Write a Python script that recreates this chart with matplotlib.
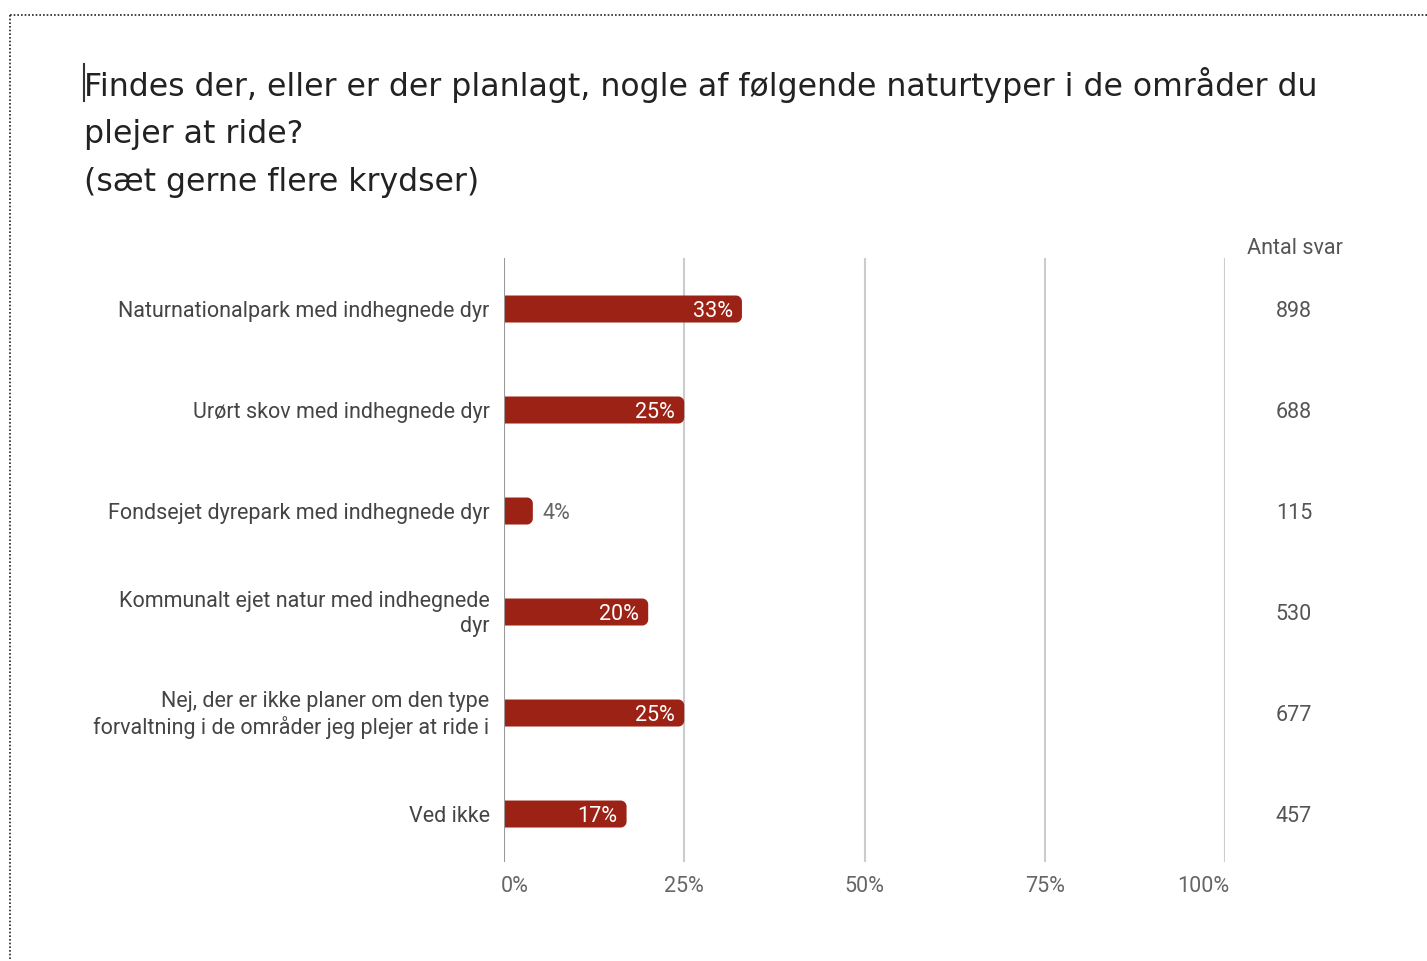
import matplotlib
matplotlib.use("Agg")
import numpy as np
import matplotlib.pyplot as plt
from matplotlib.patches import Polygon
from matplotlib.lines import Line2D

categories = [
    "Naturnationalpark med indhegnede dyr",
    "Urørt skov med indhegnede dyr",
    "Fondsejet dyrepark med indhegnede dyr",
    "Kommunalt ejet natur med indhegnede\ndyr",
    "Nej, der er ikke planer om den type\nforvaltning i de områder jeg plejer at ride i",
    "Ved ikke",
]
percent = [33, 25, 4, 20, 25, 17]
counts = [898, 688, 115, 530, 677, 457]
tick_values = [0, 25, 50, 75, 100]
tick_labels = ["0%", "25%", "50%", "75%", "100%"]
title_lines = [
    "Findes der, eller er der planlagt, nogle af følgende naturtyper i de områder du",
    "plejer at ride?",
    "(sæt gerne flere krydser)",
]
count_header = "Antal svar"

W, H = 1427, 961
fig = plt.figure(figsize=(W / 100, H / 100), dpi=100)
fig.patch.set_facecolor("white")

def fx(px):
    return px / W

def fy(py):
    return 1 - py / H

FS = 15.5
DY = 2  # pixel offset for text vertical centering

# dotted border
fig.add_artist(Line2D([fx(10), fx(1427)], [fy(15), fy(15)], color="#222222", lw=1.2, ls=(0, (1, 1.2))))
fig.add_artist(Line2D([fx(10), fx(10)], [fy(15), fy(961)], color="#222222", lw=1.2, ls=(0, (1, 1.2))))

# title
base = [96, 143, 191]
for line, b in zip(title_lines, base):
    fig.text(fx(84), fy(b), line, fontsize=22.7, family="DejaVu Sans", color="#222222", va="baseline", ha="left")
# caret
fig.add_artist(Line2D([fx(84), fx(84)], [fy(64), fy(101)], color="#333333", lw=1.5))

# axes
left_px, right_px, top_px, bot_px = 504, 1225, 258, 862
ax = fig.add_axes([fx(left_px), fy(bot_px), fx(right_px - left_px), (bot_px - top_px) / H])
ax.set_xlim(0, 100)
ax.set_ylim(5.475, -0.505)
ax.axis("off")

for v in tick_values[1:]:
    ax.axvline(v, color="#cccccc", lw=1.5, zorder=0)
ax.axvline(0, color="#999999", lw=1.5, zorder=3)

bar_color = "#9b2215"
bar_h = 27 / 101
r_px = 6
rx = r_px / (right_px - left_px) * 100
ry = r_px / 101
dy = DY / 101
y = list(range(len(categories)))
bars = ax.barh(y, percent, height=bar_h, color=bar_color, zorder=2, linewidth=0)
for b in bars:
    x0, y0, w, h = b.get_x(), b.get_y(), b.get_width(), b.get_height()
    x1, y1 = x0 + w, y0 + h
    t = np.linspace(0, np.pi / 2, 12)
    cx, cy = x1 - rx, y0 + ry
    arc1 = [(cx + rx * np.sin(a), cy - ry * np.cos(a)) for a in t]
    cx, cy = x1 - rx, y1 - ry
    arc2 = [(cx + rx * np.cos(a), cy + ry * np.sin(a)) for a in t]
    pts = [(x0, y0)] + arc1 + arc2 + [(x0, y1)]
    ax.add_patch(Polygon(pts, closed=True, facecolor=bar_color, edgecolor="none", zorder=2))
    b.set_visible(False)

for yi, p in zip(y, percent):
    if p >= 10:
        ax.text(p - 1.3, yi + dy, f"{p}%", ha="right", va="center", color="white",
                fontsize=FS, family="Roboto", zorder=4)
    else:
        ax.text(p + 1.3, yi + dy, f"{p}%", ha="left", va="center", color="#666666",
                fontsize=FS, family="Roboto", zorder=4)

# category labels
for yi, c in zip(y, categories):
    ax.text(-2.0, yi + dy, c, ha="right", va="center", color="#444444", fontsize=FS,
            family="Roboto", linespacing=1.2)

# tick labels
for v, t in zip(tick_values, tick_labels):
    ha = "left" if v == tick_values[0] else ("right" if v == tick_values[-1] else "center")
    xp = left_px + v / 100 * (right_px - left_px)
    if ha == "left":
        xp -= 3
    elif ha == "right":
        xp += 4
    fig.text(fx(xp), fy(885 + DY), t, ha=ha, va="center", color="#666666", fontsize=FS, family="Roboto")

# counts
fig.text(fx(1295), fy(246 + DY), count_header, ha="center", va="center", color="#555555", fontsize=FS, family="Roboto")
for yi, n in zip(y, counts):
    py = top_px + (yi + 0.505) * 101 + DY
    fig.text(fx(1294), fy(py), str(n), ha="center", va="center", color="#555555", fontsize=FS, family="Roboto")

fig.savefig("out.png", dpi=100, facecolor="white")
